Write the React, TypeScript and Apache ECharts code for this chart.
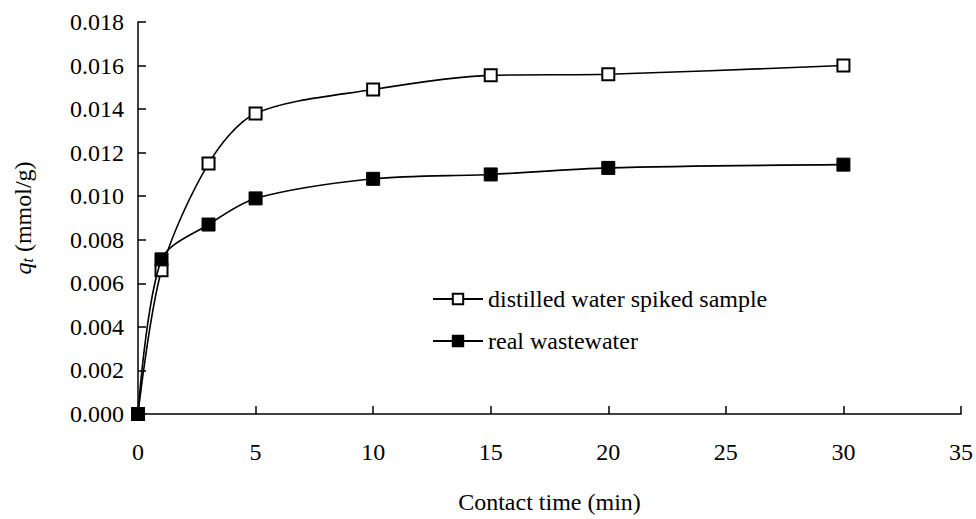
import React, { useEffect, useRef } from "react";
import * as echarts from "echarts";

const contactTime = [0, 1, 3, 5, 10, 15, 20, 30];
const distilledWater = [0, 0.0066, 0.0115, 0.0138, 0.0149, 0.01555, 0.0156, 0.016];
const realWastewater = [0, 0.0071, 0.0087, 0.0099, 0.0108, 0.011, 0.0113, 0.01145];
const seriesNames = ["distilled water spiked sample", "real wastewater"];

const FONT = "Liberation Serif";
const FS = 24;

export default function App() {
  const ref = useRef<HTMLDivElement>(null);
  useEffect(() => {
    if (!ref.current) return;
    const chart = echarts.init(ref.current, undefined, { renderer: "svg" });
    const pairs = (ys: number[]) => contactTime.map((t, i) => [t, ys[i]]);
    chart.setOption({
      animation: false,
      backgroundColor: "#ffffff",
      textStyle: { fontFamily: FONT, color: "#000" },
      grid: { left: 138, right: 14, top: 22, bottom: 101 },
      legend: {
        orient: "vertical",
        left: 432,
        top: 287,
        padding: 0,
        itemWidth: 50,
        itemHeight: 13,
        itemGap: 18,
        textStyle: { fontFamily: FONT, fontSize: FS, color: "#000" },
        data: seriesNames,
      },
      xAxis: {
        type: "value",
        min: 0,
        max: 35,
        interval: 5,
        name: "Contact time (min)",
        nameLocation: "middle",
        nameGap: 76,
        nameTextStyle: { fontFamily: FONT, fontSize: FS, color: "#000" },
        axisLine: { show: true, lineStyle: { color: "#000", width: 1.5 } },
        axisTick: { show: true, inside: true, length: 8, lineStyle: { color: "#000", width: 1.5 } },
        axisLabel: { margin: 26, fontFamily: FONT, fontSize: FS, color: "#000" },
        splitLine: { show: false },
      },
      yAxis: {
        type: "value",
        min: 0,
        max: 0.018,
        interval: 0.002,
        name: "{i|q}{sub|t} (mmol/g)",
        nameLocation: "middle",
        nameGap: 103,
        nameRotate: 90,
        nameTextStyle: {
          fontFamily: FONT,
          fontSize: FS,
          color: "#000",
          rich: {
            i: { fontFamily: FONT, fontSize: FS, fontStyle: "italic", color: "#000" },
            sub: { fontFamily: FONT, fontSize: 16, fontStyle: "italic", color: "#000", verticalAlign: "bottom", padding: [8, 0, 0, 0] },
          },
        },
        axisLine: { show: true, lineStyle: { color: "#000", width: 1.5 } },
        axisTick: { show: true, inside: true, length: 8, lineStyle: { color: "#000", width: 1.5 } },
        axisLabel: {
          margin: 14,
          fontFamily: FONT,
          fontSize: FS,
          color: "#000",
          formatter: (v: number) => v.toFixed(3),
        },
        splitLine: { show: false },
      },
      series: [
        {
          name: seriesNames[0],
          type: "line",
          smooth: 0.3,
          data: pairs(distilledWater),
          symbol: "rect",
          symbolSize: 12,
          lineStyle: { color: "#000", width: 1.6 },
          itemStyle: { color: "#fff", borderColor: "#000", borderWidth: 2 },
          z: 3,
        },
        {
          name: seriesNames[1],
          type: "line",
          smooth: 0.3,
          data: pairs(realWastewater),
          symbol: "rect",
          symbolSize: 13,
          lineStyle: { color: "#000", width: 1.6 },
          itemStyle: { color: "#000", borderColor: "#000", borderWidth: 1 },
          z: 4,
        },
      ],
    });
    return () => chart.dispose();
  }, []);
  return (
    <div
      ref={ref}
      style={{ position: "fixed", left: 0, top: 0, width: 976, height: 519 }}
    />
  );
}
